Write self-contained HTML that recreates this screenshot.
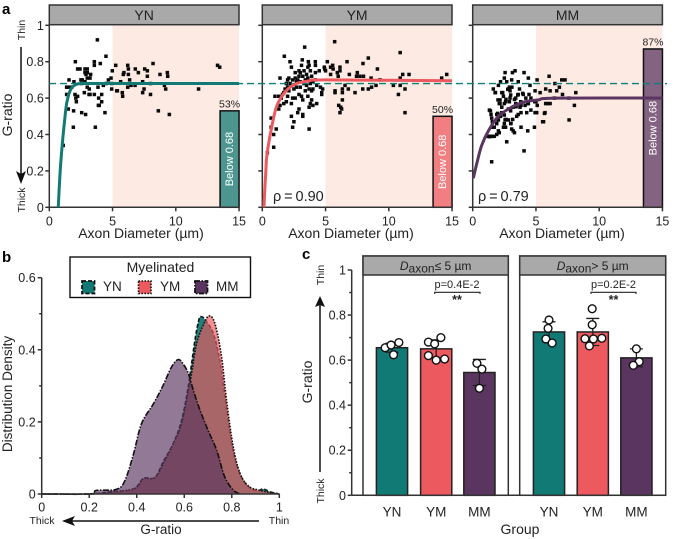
<!DOCTYPE html>
<html><head><meta charset="utf-8">
<style>
html,body{margin:0;padding:0;background:#fff}
svg{display:block;font-family:"Liberation Sans",Arial,sans-serif}
text{fill:#222}
</style></head>
<body>
<svg id="fig" xmlns="http://www.w3.org/2000/svg" width="675" height="539" viewBox="0 0 675 539">
<g id="a-layer"></g>
<g id="b-layer"></g>
<g id="c-layer"></g>

<text x="2" y="14" font-size="15" font-weight="bold" style="fill:#000">a</text>
<text x="2" y="262" font-size="15" font-weight="bold" style="fill:#000">b</text>
<text x="302" y="259" font-size="15" font-weight="bold" style="fill:#000">c</text>

<text transform="translate(12 115) rotate(-90)" text-anchor="middle" font-size="14">G-ratio</text>
<text transform="translate(25 30) rotate(-90)" text-anchor="middle" font-size="10.5">Thin</text>
<text transform="translate(25 200) rotate(-90)" text-anchor="middle" font-size="10.5">Thick</text>
<line x1="21" y1="47" x2="21" y2="174" stroke="#111" stroke-width="1.5"/>
<path d="M16 171L21 184L26 171L21 174Z" fill="#111"/>
<text x="141" y="238" text-anchor="middle" font-size="14">Axon Diameter (µm)</text>
<text x="351" y="238" text-anchor="middle" font-size="14">Axon Diameter (µm)</text>
<text x="562" y="238" text-anchor="middle" font-size="14">Axon Diameter (µm)</text>
<text x="273" y="201" font-size="14.5">ρ&#8201;=&#8201;0.90</text>
<text x="478" y="201" font-size="14.5">ρ&#8201;=&#8201;0.79</text>

<text transform="translate(12 394) rotate(-90)" text-anchor="middle" font-size="13.5">Distribution Density</text>
<text x="42" y="524" text-anchor="middle" font-size="10.5">Thick</text>
<text x="279" y="524" text-anchor="middle" font-size="10.5">Thin</text>
<line x1="259" y1="521" x2="72" y2="521" stroke="#111" stroke-width="1.5"/>
<path d="M75 516L62 521L75 526L72 521Z" fill="#111"/>
<text x="161" y="534" text-anchor="middle" font-size="13.5">G-ratio</text>

<g id="legend">
<rect x="70" y="257" width="180.5" height="40.5" fill="#fff" stroke="#111" stroke-width="1.4"/>
<text x="160.5" y="272" text-anchor="middle" font-size="14">Myelinated</text>
<rect x="82" y="281" width="12.5" height="12.5" fill="#127a74" stroke="#111" stroke-width="1.8" stroke-dasharray="4 2"/>
<text x="103" y="291" font-size="13.5">YN</text>
<rect x="138.5" y="281" width="12.5" height="12.5" fill="#ec5a60" stroke="#111" stroke-width="1.6" stroke-dasharray="1.6 1.4"/>
<text x="160" y="291" font-size="13.5">YM</text>
<rect x="195" y="281" width="12.5" height="12.5" fill="#5a3560" stroke="#111" stroke-width="1.8" stroke-dasharray="5 1.5 1.5 1.5"/>
<text x="216" y="291" font-size="13.5">MM</text>
</g>

<text transform="translate(312 382) rotate(-90)" text-anchor="middle" font-size="14">G-ratio</text>
<text transform="translate(324 275) rotate(-90)" text-anchor="middle" font-size="10.5">Thin</text>
<text transform="translate(324 491) rotate(-90)" text-anchor="middle" font-size="10.5">Thick</text>
<line x1="320" y1="472" x2="320" y2="305" stroke="#111" stroke-width="1.5"/>
<path d="M315 307L320 296L325 307L320 305Z" fill="#111"/>
<text x="520" y="534" text-anchor="middle" font-size="14">Group</text>
<text x="457" y="288" text-anchor="middle" font-size="11">p=0.4E-2</text>
<path d="M434.7 294V292.3H480V294" fill="none" stroke="#222" stroke-width="1.1"/>
<text x="457" y="304" text-anchor="middle" font-size="12.5" font-weight="bold">**</text>
<text x="613.5" y="288" text-anchor="middle" font-size="11">p=0.2E-2</text>
<path d="M591 294V292.3H636V294" fill="none" stroke="#222" stroke-width="1.1"/>
<text x="613.5" y="304" text-anchor="middle" font-size="12.5" font-weight="bold">**</text>
</svg>
<script>
// ---------- Panel a data ----------
const ynDiameter=[3.8,4.48,2.06,3.56,3.56,4.03,2.24,2.43,2.82,3,2.82,3,3.27,2.9,3,3.22,2.61,2.5,1.56,1.95,2.56,1.37,1.5,1.77,3,3.16,2.82,3.85,1.37,2.03,2.24,2.1,2.14,2.77,3.14,3.22,3.56,3.9,4.14,3.95,3.88,1.92,2.56,2.87,4.4,1.9,3.64,1.1,1.5,4.14,4.27,4.48,4.67,4.88,4.98,5.25,4.93,4.93,5.38,5.33,5.64,5.9,5.85,5.77,5.8,6.2,6.25,6.25,6.35,6.2,6.46,6.78,7.04,6.8,7.54,7.75,7.75,7.38,7.49,7.38,8,8.2,8,8.62,8.75,9.33,9.36,9.1,9.2,9.49,11.8,13.3,13.47];
const ynGratio=[.92,.83,.8,.8,.78,.79,.76,.76,.76,.76,.74,.74,.73,.73,.71,.71,.7,.7,.7,.69,.68,.66,.66,.66,.66,.65,.69,.66,.62,.62,.61,.6,.58,.63,.62,.62,.62,.6,.58,.56,.56,.53,.52,.51,.52,.44,.44,.34,.54,.62,.67,.68,.7,.71,.75,.78,.68,.65,.64,.64,.69,.74,.73,.63,.61,.78,.76,.73,.7,.66,.67,.67,.74,.76,.76,.75,.72,.69,.65,.63,.68,.79,.62,.53,.73,.74,.72,.67,.65,.51,.65,.78,.77];
const ymDiameter=[5.72,3.35,1.74,10.9,8.38,6.7,5.14,7.96,3.16,3.64,4.19,2.19,2.3,2.6,2.9,3.1,3.3,3.6,3.7,3.8,4.2,4.2,3.5,3.2,2.9,2.6,2.4,2.1,2,1.4,2.7,3,3.6,3.9,4,4.5,4.9,5,5.4,5.6,1.9,2,2.3,2.7,3,3.5,3.7,4,4.3,4.6,4.7,3.9,1.7,1.6,1.3,2,2.4,2.9,3.1,3.6,3.9,1,1.9,1.7,1.4,1.3,2.3,2.9,2.8,3.2,3.2,3.8,3.7,4,4.3,2.3,2.5,2.4,3.7,.7,.7,1.1,.9,.9,.4,4.93,5.4,5.56,6.14,6.14,5.93,6,6.88,7.51,7.45,7.72,8,9.1,8.6,9.3,11.1,11.6,10.9,10.76,11.28,10.36,10.9,11.28,14.18,14.58,5.75,5.75,6.33,6.33,6.33,6.04,6.27,6.14,6.2,7.33,6.8,6.54,7.94,8.38,8.64,8.99,4.77,4.7,3,3.4,2.8,3.3,3.8,4.2,2.2,2.5,3.4,2.6,1.5,1.8,2.1,3.2];
const ymGratio=[.91,.88,.83,.85,.82,.8,.8,.79,.81,.8,.8,.8,.77,.74,.75,.78,.75,.77,.78,.75,.78,.74,.73,.72,.72,.71,.7,.71,.7,.71,.69,.69,.71,.72,.69,.75,.77,.75,.77,.76,.68,.66,.67,.66,.66,.67,.65,.65,.67,.66,.63,.64,.63,.62,.61,.61,.6,.62,.61,.61,.59,.61,.58,.57,.56,.54,.57,.54,.52,.51,.5,.57,.55,.56,.57,.5,.47,.44,.43,.49,.44,.43,.4,.33,.3,.76,.73,.78,.77,.75,.74,.72,.73,.74,.72,.72,.72,.76,.71,.7,.73,.73,.71,.62,.65,.67,.67,.52,.71,.73,.64,.63,.65,.63,.59,.56,.54,.52,.55,.63,.65,.67,.65,.65,.66,.67,.65,.62,.74,.7,.7,.68,.68,.7,.68,.65,.64,.6,.6,.65,.64,.59];
const mmDiameter=[3.35,3.14,2.56,4.06,2.5,3.08,3.6,4.4,5.09,6.04,4.53,2.69,2.03,1.63,1.77,2.37,2.82,2.43,2.16,2.16,2.95,3.4,3.6,4,4.45,4.93,5.33,5.77,6.12,6.5,6.64,7.04,7.3,6.85,8.15,7.1,6.46,7.6,8.04,7.62,4.6,5,5.77,6.12,5.72,5.6,5.06,4.88,4.35,3.82,3.2,4.06,1.5,2.69,1.1,1.3,1.5,1.7,1.9,2.1,1.4,1.45,1.5,1.55,1.55,1.9,2.3,2.03,2.43,2.6,2.03,2.56,2.82,3.2,3.74,4.14,4.4,3.82,4.27,4.93,2.82,3.08,3.48,2,2.3,2.6,3,3.4,3.6,3.8,4.9,5.1,2.2,2.5,1.9,3,3.3,1.7,1.8,2.3,2.77,2.95,3,2.63,3.3,3.56,3.95,2.1,2.5,2.9,3.43,3.82,4.35,5.93,1.32,1.98,2.5,1.9,3.03,5.53,5.67,4.6,3.16,2.63,1.58,1.32,4.2,3.7,3.1,2.2,2.9];
const mmGratio=[.75,.74,.74,.74,.71,.7,.69,.71,.7,.72,.67,.69,.67,.65,.63,.63,.65,.61,.59,.57,.6,.6,.62,.62,.62,.64,.63,.65,.64,.68,.64,.7,.7,.66,.63,.62,.6,.6,.56,.48,.6,.58,.57,.57,.52,.47,.52,.44,.42,.44,.42,.31,.25,.36,.39,.39,.39,.39,.4,.41,.53,.51,.49,.47,.44,.51,.52,.48,.44,.44,.42,.48,.54,.55,.55,.56,.57,.52,.52,.52,.48,.43,.5,.59,.55,.58,.53,.57,.51,.58,.58,.56,.5,.46,.46,.46,.41,.44,.63,.63,.648,.64,.617,.593,.593,.617,.626,.57,.57,.58,.553,.56,.57,.57,.534,.516,.507,.461,.461,.47,.516,.534,.483,.483,.39,.388,.6,.65,.66,.69,.66];
const ynCurveX=[.71,.78,.88,1.03,1.2,1.37,1.64,2.03,2.67,5,15];
const ynCurveY=[0,.1,.22,.35,.47,.57,.64,.672,.68,.68,.68];
const ymCurveX=[.13,.2,.28,.37,.77,1.16,1.82,2.6,3.67,5,15];
const ymCurveY=[0,.1,.2,.29,.45,.56,.635,.677,.694,.7,.695];
const mmCurveX=[.05,.32,.71,1.24,2.03,3.08,4.14,5.19,6.5,15];
const mmCurveY=[.16,.24,.34,.42,.5,.55,.58,.59,.6,.6];
const belowPercent=[53,50,87];
const groupNames=['YN','YM','MM'];
const thresholdValue=[.68];
const diameterTicks=[0,5,10,15];
const ratioTicks=[0,.2,.4,.6,.8,1];
const ratioTickLabels=['0','0.2','0.4','0.6','0.8','1'];

// ---------- Panel b data ----------
const densityYnX=[0,.2,.29,.386,.428,.477,.512,.554,.589,.617,.645,.662,.672,.687,.722,.75,.771,.8,.827,.863,.905,.933,.96,1];
const densityYnY=[0,0,.006,.013,.043,.046,.09,.14,.205,.298,.427,.484,.492,.484,.446,.37,.27,.14,.067,.025,.009,.014,.006,0];
const densityYmX=[0,.2,.3,.393,.428,.477,.519,.561,.589,.617,.631,.652,.683,.705,.729,.757,.778,.806,.835,.87,.912,.947,1];
const densityYmY=[0,0,.006,.016,.043,.046,.094,.15,.196,.288,.335,.418,.473,.494,.473,.381,.26,.131,.057,.022,.011,.006,0];
const densityMmX=[0,.2,.23,.315,.35,.386,.42,.47,.51,.547,.575,.596,.617,.638,.666,.7,.736,.77,.806,.835];
const densityMmY=[0,0,.01,.013,.037,.11,.195,.25,.3,.353,.373,.36,.335,.288,.233,.177,.122,.048,.011,0];
const densityYTicks=[0,.1,.2,.3,.4,.5,.6];
const densityYLabels=['0','','0.2','','0.4','','0.6'];
const densityXTicks=[0,.2,.4,.6,.8,1];
const densityXLabels=['0','0.2','0.4','0.6','0.8','1'];

// ---------- Panel c data ----------
const facetTitles=['≤ 5 µm','> 5 µm'];
const barSmallMeans=[.655,.65,.545];
const barLargeMeans=[.725,.725,.61];
const barSmallSd=[.02,.04,.058];
const barLargeSd=[.045,.06,.04];
const smallYnDots=[.655,.667,.678,.624];
const smallYmDots=[.68,.672,.7,.62,.6,.605];
const smallMmDots=[.586,.56,.475];
const largeYnDots=[.778,.741,.694,.676];
const largeYmDots=[.828,.757,.695,.694,.697,.663];
const largeMmDots=[.65,.593,.577];
const smallYnJitter=[-.22,-.03,.22,.05];
const smallYmJitter=[-.25,-.05,.15,-.25,0,.27];
const smallMmJitter=[-.08,.08,0];
const largeYnJitter=[0,-.03,-.1,.1];
const largeYmJitter=[-.02,-.02,-.25,.02,.29,-.11];
const largeMmJitter=[0,.09,-.1];
const barTicks=[0,.1,.2,.3,.4,.5,.6,.7,.8,.9,1];
const barTickLabels=['0','','0.2','','0.4','','0.6','','0.8','','1'];

// ---------- helpers ----------
const NS='http://www.w3.org/2000/svg';
function mk(tag,attrs,parent,txt){
  const n=document.createElementNS(NS,tag);
  for(const k in attrs){n.setAttribute(k,attrs[k]);}
  if(txt!==undefined){n.textContent=txt;}
  parent.appendChild(n);
  return n;
}
function smooth(xs,ys,fx,fy){
  const p=xs.map((v,i)=>[fx(v),fy(ys[i])]);
  let d='M'+p[0][0].toFixed(2)+' '+p[0][1].toFixed(2);
  for(let i=0;i<p.length-1;i++){
    const a=p[Math.max(i-1,0)],b=p[i],c=p[i+1],e=p[Math.min(i+2,p.length-1)];
    const c1=[b[0]+(c[0]-a[0])/6,b[1]+(c[1]-a[1])/6],c2=[c[0]-(e[0]-b[0])/6,c[1]-(e[1]-b[1])/6];
    d+='C'+c1[0].toFixed(2)+' '+c1[1].toFixed(2)+' '+c2[0].toFixed(2)+' '+c2[1].toFixed(2)+' '+c[0].toFixed(2)+' '+c[1].toFixed(2);
  }
  return d;
}
const TEAL='#127a74',RED='#ec5a60',PURPLE='#5a3560',AXIS='#333',SW=1.5;

// ---------- Panel a ----------
const aLayer=document.getElementById('a-layer');
const aOrigins=[49.3,262.3,472.7];
const aSeries=[
 {xs:ynDiameter,ys:ynGratio,cx:ynCurveX,cy:ynCurveY,color:TEAL},
 {xs:ymDiameter,ys:ymGratio,cx:ymCurveX,cy:ymCurveY,color:RED},
 {xs:mmDiameter,ys:mmGratio,cx:mmCurveX,cy:mmCurveY,color:PURPLE}
];
const aY=v=>207.3-v*182;
aOrigins.forEach((x0,pi)=>{
  const aX=v=>x0+v*12.65;
  const s=aSeries[pi];
  const nm=groupNames[pi].toLowerCase();
  const band=mk('rect',{x:aX(5),y:aY(1),width:aX(15)-aX(5),height:aY(0)-aY(1),fill:'#fdeae3'},aLayer);
  
  
  const strip=mk('rect',{x:x0,y:5,width:189.7,height:19.7,fill:'#a9a9a9',stroke:AXIS,'stroke-width':SW},aLayer);
  
  
  const stripText=mk('text',{x:x0+94.8,y:19.8,'text-anchor':'middle','font-size':14},aLayer,groupNames[pi]);
  
  
  s.xs.forEach((v,i)=>{
    const pt=mk('rect',{x:aX(v)-1.75,y:aY(s.ys[i])-1.75,width:3.5,height:3.5,fill:'#0a0a0a'},aLayer);
    
    
  });
  const barTop=aY(belowPercent[pi]/100);
  const bar=mk('rect',{x:aX(13.5),y:barTop,width:aX(15)-aX(13.5),height:aY(0)-barTop,fill:s.color,'fill-opacity':.75,stroke:'#111','stroke-width':SW},aLayer);
  
  
  const cx=(aX(13.5)+aX(15))/2;
  const barText=mk('text',{transform:'translate('+(cx+3.6)+' '+((barTop+aY(0))/2)+') rotate(-90)','text-anchor':'middle','font-size':11,style:'fill:#fff'},aLayer,'Below 0.68');
  
  
  const pct=mk('text',{x:cx,y:barTop-3.5,'text-anchor':'middle','font-size':10.5},aLayer,belowPercent[pi]+'%');
  
  
  const yAxis=mk('line',{x1:x0,x2:x0,y1:aY(1)-.6,y2:aY(0)+.6,stroke:AXIS,'stroke-width':SW},aLayer);
  
  
  const xAxis=mk('line',{x1:x0,x2:aX(15),y1:aY(0),y2:aY(0),stroke:AXIS,'stroke-width':SW},aLayer);
  
  
  ratioTicks.forEach((t,i)=>{
    const tk=mk('line',{x1:x0-4,x2:x0,y1:aY(t),y2:aY(t),stroke:AXIS,'stroke-width':SW},aLayer);
    
    
    if(pi===0){
      const lb=mk('text',{x:x0-5.5,y:aY(t)+4.5,'text-anchor':'end','font-size':12.5},aLayer,ratioTickLabels[i]);
      
      
    }
  });
  diameterTicks.forEach(t=>{
    const tk=mk('line',{x1:aX(t),x2:aX(t),y1:aY(0),y2:aY(0)+4,stroke:AXIS,'stroke-width':SW},aLayer);
    
    
    const lb=mk('text',{x:aX(t),y:225.5,'text-anchor':'middle','font-size':12.5},aLayer,String(t));
    
    
  });
});
const thresholdLine=mk('line',{x1:49,x2:667,y1:aY(thresholdValue[0]),y2:aY(thresholdValue[0]),stroke:'#0f7f78','stroke-width':1.4,'stroke-dasharray':'7 4'},aLayer);


aOrigins.forEach((x0,pi)=>{
  const s=aSeries[pi];
  const aX=v=>x0+v*12.65;
  const curve=mk('path',{d:smooth(s.cx,s.cy,aX,aY),fill:'none',stroke:s.color,'stroke-width':3},aLayer);
  
  
});

// ---------- Panel b ----------
const bLayer=document.getElementById('b-layer');
const bX=v=>41.7+v*237.6;
const bY=v=>494-v*360.5;
const densities=[
 {xs:densityYnX,ys:densityYnY,fill:TEAL,op:.95,dash:'4 2',nm:'yn'},
 {xs:densityYmX,ys:densityYmY,fill:RED,op:.68,dash:'1.6 1.4',nm:'ym'},
 {xs:densityMmX,ys:densityMmY,fill:PURPLE,op:.66,dash:'6 1.5 1.5 1.5',nm:'mm'}
];
densities.forEach(s=>{
  const line=smooth(s.xs,s.ys,bX,bY);
  const area=mk('path',{d:line+'L'+bX(s.xs[s.xs.length-1])+' '+bY(0)+'L'+bX(s.xs[0])+' '+bY(0)+'Z',fill:s.fill,'fill-opacity':s.op},bLayer);
  
  
  const stroke=mk('path',{d:line,fill:'none',stroke:'#111','stroke-width':1.6,'stroke-dasharray':s.dash},bLayer);
  
  
});
const bYAxis=mk('line',{x1:bX(0),x2:bX(0),y1:bY(.6),y2:bY(0),stroke:AXIS,'stroke-width':SW},bLayer);


const bXAxis=mk('line',{x1:bX(0),x2:bX(1),y1:bY(0),y2:bY(0),stroke:AXIS,'stroke-width':SW},bLayer);


densityYTicks.forEach((t,i)=>{
  const major=densityYLabels[i]!=='';
  const tk=mk('line',{x1:bX(0)-(major?4:2.5),x2:bX(0),y1:bY(t),y2:bY(t),stroke:AXIS,'stroke-width':SW},bLayer);
  
  
  if(major){
    const lb=mk('text',{x:bX(0)-6,y:bY(t)+4.5,'text-anchor':'end','font-size':12.5},bLayer,densityYLabels[i]);
    
    
  }
});
densityXTicks.forEach((t,i)=>{
  const tk=mk('line',{x1:bX(t),x2:bX(t),y1:bY(0),y2:bY(0)+4,stroke:AXIS,'stroke-width':SW},bLayer);
  
  
  const lb=mk('text',{x:bX(t),y:511.5,'text-anchor':'middle','font-size':12.5},bLayer,densityXLabels[i]);
  
  
});

// ---------- Panel c ----------
const cLayer=document.getElementById('c-layer');
const cY=v=>495.3-v*225.3;
const barWidth=31.2;
const facets=[
 {left:363,right:508.3,centers:[392,436.2,479.4],means:barSmallMeans,sd:barSmallSd,dots:[smallYnDots,smallYmDots,smallMmDots],jit:[smallYnJitter,smallYmJitter,smallMmJitter],nm:'small'},
 {left:519.7,right:665.7,centers:[549,592.8,636.4],means:barLargeMeans,sd:barLargeSd,dots:[largeYnDots,largeYmDots,largeMmDots],jit:[largeYnJitter,largeYmJitter,largeMmJitter],nm:'large'}
];
const barColors=[TEAL,RED,PURPLE];
facets.forEach((f,fi)=>{
  const box=mk('rect',{x:f.left,y:256,width:f.right-f.left,height:cY(0)-256,fill:'#fff',stroke:AXIS,'stroke-width':SW},cLayer);
  
  
  const strip=mk('rect',{x:f.left,y:256,width:f.right-f.left,height:19,fill:'#a9a9a9',stroke:AXIS,'stroke-width':SW},cLayer);
  
  
  const title=mk('text',{x:(f.left+f.right)/2,y:270,'text-anchor':'middle','font-size':12},cLayer);
  
  
  mk('tspan',{'font-style':'italic'},title,'D');
  mk('tspan',{dy:2.5,'font-size':12},title,'axon');
  mk('tspan',{dy:-2.5},title,facetTitles[fi]);
  f.centers.forEach((c,i)=>{
    const rect=mk('rect',{x:c-barWidth/2,y:cY(f.means[i]),width:barWidth,height:cY(0)-cY(f.means[i]),fill:barColors[i],stroke:'#222','stroke-width':SW},cLayer);
    
    
    const hi=cY(f.means[i]+f.sd[i]),lo=cY(f.means[i]-f.sd[i]);
    const err=mk('path',{d:'M'+c+' '+hi+'V'+lo+'M'+(c-6.5)+' '+hi+'H'+(c+6.5)+'M'+(c-6.5)+' '+lo+'H'+(c+6.5),fill:'none',stroke:'#222','stroke-width':1.3},cLayer);
    
    
    f.dots[i].forEach((v,j)=>{
      const dot=mk('circle',{cx:c+f.jit[i][j]*barWidth,cy:cY(v),r:3.9,fill:'#fff',stroke:'#111','stroke-width':1.4},cLayer);
      
      
    });
    const lb=mk('text',{x:c,y:516.5,'text-anchor':'middle','font-size':13.5},cLayer,groupNames[i]);
    
    
  });
});
const cYAxis=mk('line',{x1:351.7,x2:351.7,y1:cY(1),y2:cY(0),stroke:AXIS,'stroke-width':SW},cLayer);


const cXAxis=mk('line',{x1:351.7,x2:665.7,y1:cY(0),y2:cY(0),stroke:AXIS,'stroke-width':SW},cLayer);


barTicks.forEach((t,i)=>{
  const major=barTickLabels[i]!=='';
  const tk=mk('line',{x1:351.7-(major?4:2.5),x2:351.7,y1:cY(t),y2:cY(t),stroke:AXIS,'stroke-width':SW},cLayer);
  
  
  if(major){
    const lb=mk('text',{x:346,y:cY(t)+4.5,'text-anchor':'end','font-size':12.5},cLayer,barTickLabels[i]);
    
    
  }
});
</script>
</body></html>
